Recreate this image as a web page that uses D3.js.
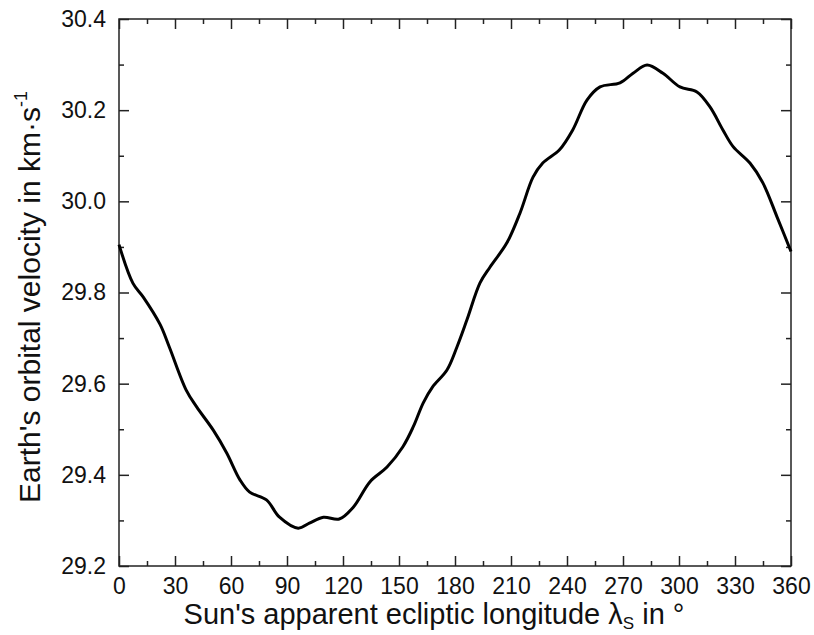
<!DOCTYPE html>
<html>
<head>
<meta charset="utf-8">
<script src="https://cdn.jsdelivr.net/npm/d3@7"></script>
<style>
  body { margin: 0; background: #fff; }
  text { font-family: "Liberation Sans", Arial, sans-serif; fill: #111; }
</style>
</head>
<body>
<div id="chart"></div>
<script>
// values
var longitude = [0, 7.5, 13, 22, 27, 36, 41.6, 50.5, 57.7, 64.8, 70, 79, 86, 96, 102, 109.5, 118, 125.5,
    134.5, 143.6, 152, 157.6, 163, 168, 175.7, 181, 186.4, 193.4, 198.8, 207.8, 214.8, 221.8, 227, 236,
    243, 250.7, 257.7, 268.4, 275.4, 282.9, 291.4, 300.5, 309.6, 316.6, 323.6, 329, 338, 345, 352.5, 360];
var velocity = [29.905, 29.82, 29.79, 29.73, 29.68, 29.586, 29.549, 29.498, 29.448, 29.389, 29.362, 29.345,
    29.307, 29.283, 29.294, 29.307, 29.303, 29.329, 29.385, 29.417, 29.461, 29.505, 29.558, 29.593, 29.63,
    29.68, 29.74, 29.821, 29.856, 29.909, 29.974, 30.053, 30.084, 30.113, 30.156, 30.222, 30.251, 30.26,
    30.281, 30.299, 30.281, 30.251, 30.24, 30.207, 30.156, 30.12, 30.084, 30.04, 29.966, 29.89];
var xTicks = [0, 30, 60, 90, 120, 150, 180, 210, 240, 270, 300, 330, 360];
var yTicks = [29.2, 29.4, 29.6, 29.8, 30.0, 30.2, 30.4];

var W = 814, H = 635;
var margin = {top: 19, right: 23, bottom: 69, left: 119};
var width = W - margin.left - margin.right;
var height = H - margin.top - margin.bottom;

var svg = d3.select("#chart")
    .append("svg")
        .attr("width", W)
        .attr("height", H);

var g = svg.append("g")
    .attr("transform", "translate(" + margin.left + "," + margin.top + ")");

var x = d3.scaleLinear().domain([0, 360]).range([0, width]);
var y = d3.scaleLinear().domain([29.2, 30.4]).range([height, 0]);

var minorX = d3.range(15, 360, 30);
var minorY = [29.3, 29.5, 29.7, 29.9, 30.1, 30.3];

// inward ticks on all four sides
function styleAxis(sel) {
    sel.select(".domain").remove();
    sel.selectAll("line").attr("stroke", "#222").attr("stroke-width", 1.5);
    sel.selectAll("text").style("font-size", "23px").attr("fill", "#111");
}

g.append("g").attr("transform", "translate(0," + height + ")")
    .call(d3.axisBottom(x).tickValues(xTicks).tickFormat(d3.format("d")).tickSizeInner(-10).tickPadding(12))
    .call(styleAxis);
g.append("g").attr("transform", "translate(0," + height + ")")
    .call(d3.axisBottom(x).tickValues(minorX).tickFormat("").tickSizeInner(-5))
    .call(styleAxis);
g.append("g")
    .call(d3.axisTop(x).tickValues(xTicks).tickFormat("").tickSizeInner(-10))
    .call(styleAxis);
g.append("g")
    .call(d3.axisTop(x).tickValues(minorX).tickFormat("").tickSizeInner(-5))
    .call(styleAxis);

g.append("g")
    .call(d3.axisLeft(y).tickValues(yTicks).tickFormat(d3.format(".1f")).tickSizeInner(-10).tickPadding(13))
    .call(styleAxis);
g.append("g")
    .call(d3.axisLeft(y).tickValues(minorY).tickFormat("").tickSizeInner(-5))
    .call(styleAxis);
g.append("g").attr("transform", "translate(" + width + ",0)")
    .call(d3.axisRight(y).tickValues(yTicks).tickFormat("").tickSizeInner(-10))
    .call(styleAxis);
g.append("g").attr("transform", "translate(" + width + ",0)")
    .call(d3.axisRight(y).tickValues(minorY).tickFormat("").tickSizeInner(-5))
    .call(styleAxis);

// frame
g.append("rect")
    .attr("width", width)
    .attr("height", height)
    .attr("fill", "none")
    .attr("stroke", "#222")
    .attr("stroke-width", 1.5);

var line = d3.line()
    .x((d, i) => x(longitude[i]))
    .y(d => y(d))
    .curve(d3.curveCatmullRom.alpha(0.5));

g.append("path")
    .datum(velocity)
    .attr("fill", "none")
    .attr("stroke", "#000")
    .attr("stroke-width", 3)
    .attr("stroke-linejoin", "round")
    .attr("d", line);

// axis titles
var xt = svg.append("text")
    .attr("x", 434)
    .attr("y", 624)
    .attr("text-anchor", "middle")
    .style("font-size", "29px");
xt.append("tspan").text("Sun's apparent ecliptic longitude \u03bb");
xt.append("tspan").attr("dy", 5).style("font-size", "17px").text("S");
xt.append("tspan").attr("dy", -5).text(" in \u00b0");

var yt = svg.append("text")
    .attr("transform", "translate(40,297) rotate(-90)")
    .attr("text-anchor", "middle")
    .style("font-size", "30px");
yt.append("tspan").text("Earth's orbital velocity in km\u00b7s");
yt.append("tspan").attr("dy", -13).style("font-size", "18px").text("-1");
</script>
</body>
</html>
